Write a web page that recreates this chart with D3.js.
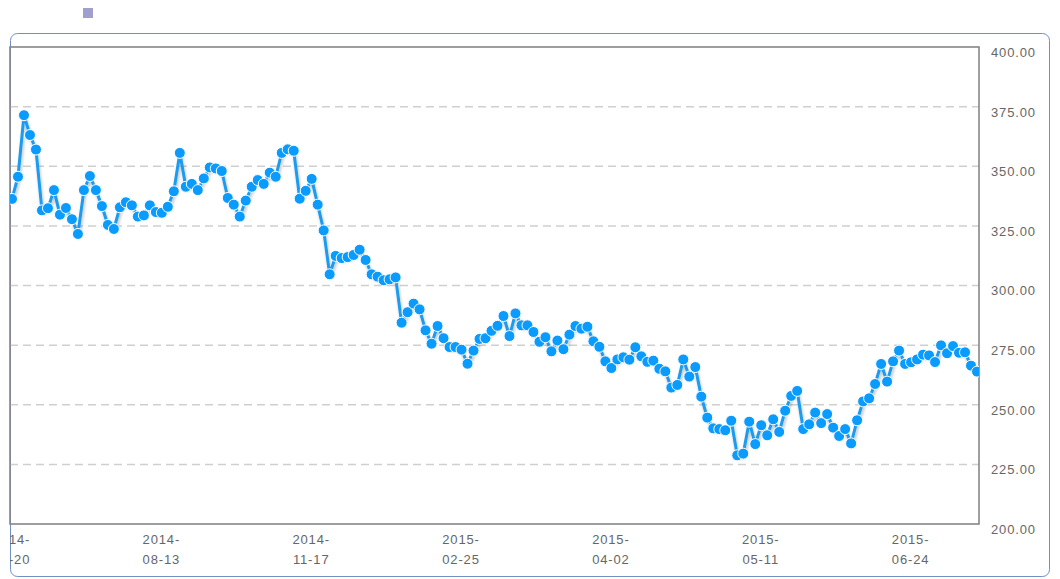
<!DOCTYPE html>
<html>
<head>
<meta charset="utf-8">
<script src="https://cdn.jsdelivr.net/npm/d3@7"></script>
<style>
  html, body { margin: 0; padding: 0; background: #fff; }
  svg { display: block; font-family: "Liberation Sans", Arial, sans-serif; }
</style>
</head>
<body>
<div id="chart"></div>
<script>
// closing prices, one per trading day
const values = [
  336.3, 345.6, 371.4, 363.1, 357.0, 331.5, 332.4, 340.0, 329.7, 332.5,
  327.8, 321.6, 340.0, 345.9, 340.0, 333.3, 325.4, 323.7, 332.8, 334.9,
  333.6, 328.9, 329.4, 333.6, 330.8, 330.5, 333.0, 339.5, 355.6, 341.4,
  342.6, 340.0, 344.9, 349.5, 349.1, 348.0, 336.7, 333.9, 328.9, 335.6,
  341.4, 344.2, 342.6, 347.3, 345.6, 355.6, 357.1, 356.5, 336.4, 339.7,
  344.7, 333.9, 323.1, 304.7, 312.4, 311.5, 311.9, 312.8, 315.0, 310.7,
  304.7, 303.7, 302.2, 302.6, 303.4, 284.4, 288.8, 292.4, 290.0, 281.2,
  275.6, 283.0, 277.9, 274.2, 274.2, 273.1, 267.2, 272.7, 277.6, 277.9,
  281.0, 283.1, 287.2, 278.8, 288.3, 283.3, 283.3, 280.5, 276.4, 278.3,
  272.4, 276.9, 273.3, 279.4, 283.0, 281.9, 282.7, 276.6, 274.3, 268.2,
  265.4, 269.0, 269.9, 268.9, 274.1, 270.3, 268.0, 268.5, 265.1, 264.0,
  257.2, 258.3, 269.0, 261.8, 265.8, 253.4, 244.6, 240.1, 239.8, 239.3,
  243.3, 228.8, 229.5, 242.9, 233.5, 241.4, 237.2, 243.9, 238.6, 247.5,
  253.7, 255.8, 239.8, 241.8, 246.7, 242.3, 246.1, 240.4, 236.9, 239.8,
  233.8, 243.5, 251.4, 252.7, 258.7, 267.1, 259.7, 268.2, 272.7, 267.1,
  267.8, 269.0, 271.0, 270.7, 267.9, 274.9, 271.6, 274.6, 271.8, 272.0,
  266.4, 263.9
];

// labelled categories (index into values) and their dates
const tickIndex = [0, 25, 50, 75, 100, 125, 150];
const tickLabels = ["2014-05-20", "2014-08-13", "2014-11-17", "2015-02-25", "2015-04-02", "2015-05-11", "2015-06-24"];
const yTicks = [200, 225, 250, 275, 300, 325, 350, 375, 400];

const width = 1060, height = 579;
const plot = { left: 10, right: 979, top: 47, bottom: 524 };

const svg = d3.select('#chart').append('svg')
  .attr('width', width)
  .attr('height', height);

const defs = svg.append('defs');
defs.append('clipPath').attr('id', 'plot-clip')
  .append('rect')
  .attr('x', plot.left).attr('y', plot.top - 6)
  .attr('width', plot.right - plot.left).attr('height', plot.bottom - plot.top + 12);
defs.append('clipPath').attr('id', 'box-clip')
  .append('rect')
  .attr('x', 10).attr('y', 33).attr('width', 1040).attr('height', 546);
const shadow = defs.append('filter').attr('id', 'line-shadow')
  .attr('x', '-5%').attr('y', '-5%').attr('width', '110%').attr('height', '120%');
shadow.append('feDropShadow')
  .attr('dx', 1).attr('dy', 3).attr('stdDeviation', 1.5)
  .attr('flood-color', '#000').attr('flood-opacity', 0.25);

// legend marker (series has no name)
svg.append('rect')
  .attr('x', 83).attr('y', 8).attr('width', 10).attr('height', 10)
  .attr('fill', '#a09fce');

// outer panel
svg.append('rect')
  .attr('x', 10.5).attr('y', 33.5).attr('width', 1039).attr('height', 543)
  .attr('rx', 7)
  .attr('fill', 'none')
  .attr('stroke', '#6f8fc6')
  .attr('stroke-width', 1);

const x = d3.scalePoint()
  .domain(d3.range(values.length))
  .range([12, 977]);

const y = d3.scaleLinear()
  .domain([200, 400])
  .range([plot.bottom, plot.top]);

// dashed gridlines
svg.append('g')
  .selectAll('line')
  .data(yTicks.filter(t => t > 200 && t < 400))
  .join('line')
  .attr('x1', plot.left).attr('x2', plot.right)
  .attr('y1', d => y(d)).attr('y2', d => y(d))
  .attr('stroke', '#cfcfcf')
  .attr('stroke-width', 1.5)
  .attr('stroke-dasharray', '8,5');

// plot frame
svg.append('rect')
  .attr('x', plot.left).attr('y', plot.top)
  .attr('width', plot.right - plot.left).attr('height', plot.bottom - plot.top)
  .attr('fill', 'none')
  .attr('stroke', '#868686')
  .attr('stroke-width', 1.6);

// y axis on the right
const yAxis = svg.append('g')
  .attr('transform', `translate(${plot.right},0)`)
  .call(d3.axisRight(y).tickValues(yTicks).tickFormat(d3.format('.2f')).tickSize(0).tickPadding(12));
yAxis.select('.domain').remove();
yAxis.selectAll('text')
  .attr('dy', '0.72em')
  .attr('fill', '#666')
  .style('font-size', '13px')
  .style('letter-spacing', '0.85px');

// x axis, two-line date labels (clipped by the panel's left edge)
const xAxis = svg.append('g')
  .attr('clip-path', 'url(#box-clip)')
  .append('g')
  .attr('transform', `translate(0,${plot.bottom})`)
  .call(d3.axisBottom(x).tickValues(tickIndex).tickFormat((d, i) => tickLabels[i]).tickSize(0));
xAxis.select('.domain').remove();
xAxis.selectAll('text').each(function(d, i) {
  const t = d3.select(this);
  const parts = tickLabels[i].split('-');
  t.text(null)
    .attr('y', 0)
    .attr('dy', null)
    .attr('fill', '#666')
    .style('font-size', '13px')
    .style('letter-spacing', '0.85px');
  t.append('tspan').attr('x', -1).attr('y', 20).text(parts[0] + '-');
  t.append('tspan').attr('x', -1).attr('y', 40).text(parts[1] + '-' + parts[2]);
});

// series
const series = svg.append('g').attr('clip-path', 'url(#plot-clip)');

const line = d3.line()
  .x((d, i) => x(i))
  .y(d => y(d));

series.append('path')
  .datum(values)
  .attr('d', line)
  .attr('fill', 'none')
  .attr('stroke', '#1a9bf0')
  .attr('stroke-width', 3)
  .attr('stroke-linejoin', 'round')
  .attr('filter', 'url(#line-shadow)');

series.selectAll('circle')
  .data(values)
  .join('circle')
  .attr('cx', (d, i) => x(i))
  .attr('cy', d => y(d))
  .attr('r', 5.5)
  .attr('fill', '#0a9bff')
  .attr('stroke', '#fff')
  .attr('stroke-width', 1);
</script>
</body>
</html>
